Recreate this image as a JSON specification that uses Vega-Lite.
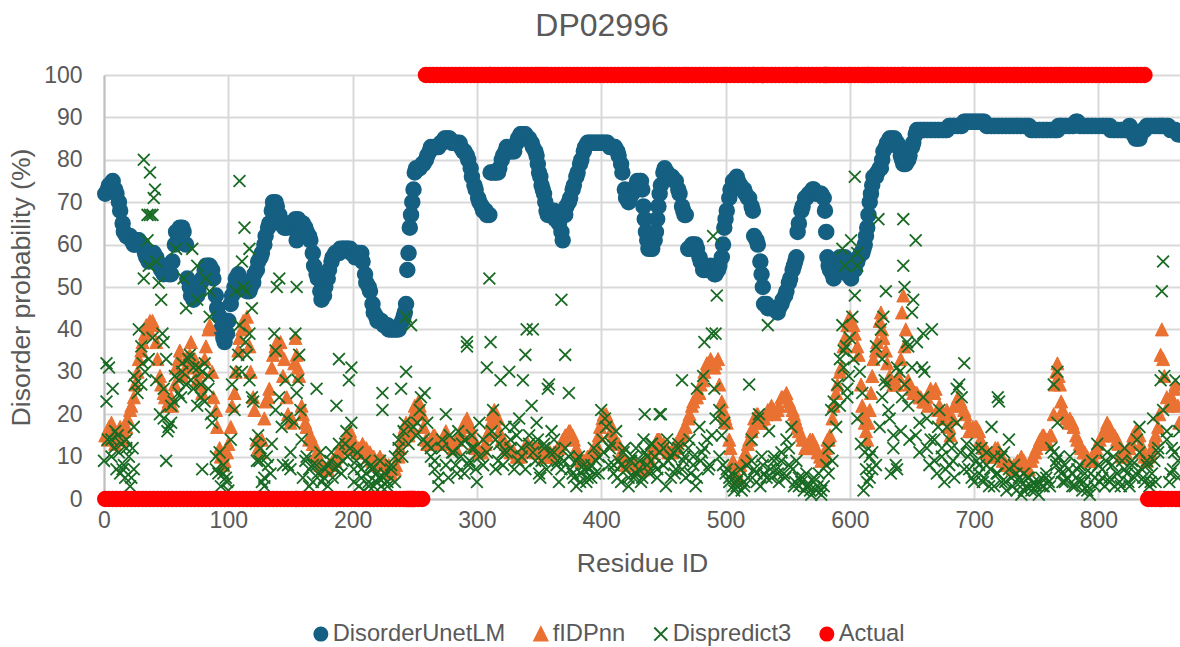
{"$schema":"https://vega.github.io/schema/vega-lite/v6.json","autosize":"none","padding":{"left":104,"top":75,"right":0,"bottom":148},"width":1076,"height":424,"background":"white",
"title":{"text":"DP02996","font":"Liberation Sans","fontSize":32,"fontWeight":"normal","color":"#595959","anchor":"middle","dx":-40,"offset":21},
"config":{"view":{"stroke":null},"axis":{"labelFont":"Liberation Sans","titleFont":"Liberation Sans","labelFontSize":23,"titleFontSize":26.6,"labelColor":"#595959","titleColor":"#595959","titleFontWeight":"normal","gridColor":"#d9d9d9","gridWidth":2,"domainColor":"#bfbfbf","domainWidth":2,"ticks":false,"labelFlush":false},"legend":{"labelFont":"Liberation Sans","labelFontSize":23.7,"labelColor":"#595959","labelLimit":400,"symbolSize":170,"symbolStrokeWidth":2,"symbolOpacity":1}},
"datasets":{"main":[
{"x":1,"u":72,"f":15,"a":0},{"x":4,"u":74,"f":17,"a":0},{"x":7,"u":75,"f":16,"a":0},{"x":10,"u":72,"f":15,"a":0},{"x":13,"u":68,"f":17,"a":0},{"x":16,"u":63,"f":16,"a":0},{"x":19,"u":62,"f":19,"a":0},{"x":22,"u":61,"f":22,"a":0},{"x":25,"u":60,"f":27,"a":0},{"x":28,"u":61,"f":33,"a":0},{"x":31,"u":60,"f":37,"a":0},{"x":34,"u":57,"f":41,"a":0},{"x":37,"u":57,"f":42,"a":0},{"x":40,"u":58,"f":41,"a":0},{"x":43,"u":56,"f":33,"a":0},{"x":46,"u":54,"f":27,"a":0},{"x":49,"u":54,"f":24,"a":0},{"x":52,"u":53,"f":23,"a":0},{"x":55,"u":56,"f":22,"a":0},{"x":58,"u":63,"f":31,"a":0},{"x":61,"u":64,"f":35,"a":0},{"x":64,"u":63,"f":30,"a":0},{"x":67,"u":52,"f":31,"a":0},{"x":70,"u":48,"f":37,"a":0},{"x":73,"u":48,"f":33,"a":0},{"x":76,"u":49,"f":30,"a":0},{"x":79,"u":52,"f":25,"a":0},{"x":82,"u":55,"f":36,"a":0},{"x":85,"u":55,"f":41,"a":0},{"x":88,"u":52,"f":24,"a":0},{"x":91,"u":45,"f":17,"a":0},{"x":94,"u":40,"f":10,"a":0},{"x":97,"u":37,"f":9,"a":0},{"x":100,"u":42,"f":13,"a":0},{"x":103,"u":48,"f":22,"a":0},{"x":106,"u":52,"f":30,"a":0},{"x":109,"u":52,"f":38,"a":0},{"x":112,"u":50,"f":42,"a":0},{"x":115,"u":49,"f":43,"a":0},{"x":118,"u":50,"f":30,"a":0},{"x":121,"u":53,"f":21,"a":0},{"x":124,"u":56,"f":12,"a":0},{"x":127,"u":58,"f":14,"a":0},{"x":130,"u":62,"f":23,"a":0},{"x":133,"u":65,"f":26,"a":0},{"x":136,"u":70,"f":34,"a":0},{"x":139,"u":69,"f":37,"a":0},{"x":142,"u":65,"f":37,"a":0},{"x":145,"u":64,"f":33,"a":0},{"x":148,"u":65,"f":20,"a":0},{"x":151,"u":64,"f":19,"a":0},{"x":154,"u":66,"f":38,"a":0},{"x":155,"u":61,"f":34,"a":0},{"x":157,"u":65,"f":29,"a":0},{"x":160,"u":65,"f":20,"a":0},{"x":163,"u":63,"f":17,"a":0},{"x":166,"u":61,"f":15,"a":0},{"x":169,"u":55,"f":13,"a":0},{"x":172,"u":52,"f":10,"a":0},{"x":175,"u":47,"f":8,"a":0},{"x":178,"u":50,"f":7,"a":0},{"x":181,"u":54,"f":8,"a":0},{"x":184,"u":57,"f":9,"a":0},{"x":187,"u":58,"f":10,"a":0},{"x":190,"u":59,"f":12,"a":0},{"x":193,"u":59,"f":13,"a":0},{"x":196,"u":59,"f":14,"a":0},{"x":199,"u":58,"f":14,"a":0},{"x":202,"u":57,"f":13,"a":0},{"x":205,"u":58,"f":12,"a":0},{"x":208,"u":56,"f":13,"a":0},{"x":211,"u":51,"f":12,"a":0},{"x":214,"u":49,"f":11,"a":0},{"x":217,"u":44,"f":10,"a":0},{"x":220,"u":42,"f":9,"a":0},{"x":223,"u":42,"f":9,"a":0},{"x":226,"u":41,"f":8,"a":0},{"x":229,"u":40,"f":8,"a":0},{"x":232,"u":40,"f":7,"a":0},{"x":235,"u":40,"f":8,"a":0},{"x":238,"u":41,"f":12,"a":0},{"x":241,"u":43,"f":16,"a":0},{"x":243,"u":46,"f":18,"a":0},{"x":244,"u":54,"f":17,"a":0},{"x":245,"u":58,"f":15,"a":0},{"x":246,"u":64,"f":16,"a":0},{"x":247,"u":67,"f":17,"a":0},{"x":248,"u":70,"f":19,"a":0},{"x":249,"u":73,"f":20,"a":0},{"x":250,"u":77,"f":22,"a":0},{"x":253,"u":78,"f":23,"a":0},{"x":256,"u":79,"f":20,"a":0},{"x":259,"u":80,"f":14,"a":100},{"x":262,"u":82,"f":13,"a":100},{"x":265,"u":83,"f":15,"a":100},{"x":268,"u":83,"f":14,"a":100},{"x":271,"u":84,"f":13,"a":100},{"x":274,"u":85,"f":15,"a":100},{"x":277,"u":85,"f":14,"a":100},{"x":280,"u":84,"f":13,"a":100},{"x":283,"u":84,"f":12,"a":100},{"x":286,"u":84,"f":15,"a":100},{"x":289,"u":82,"f":17,"a":100},{"x":292,"u":81,"f":19,"a":100},{"x":295,"u":78,"f":17,"a":100},{"x":298,"u":74,"f":13,"a":100},{"x":301,"u":71,"f":12,"a":100},{"x":304,"u":69,"f":11,"a":100},{"x":307,"u":68,"f":13,"a":100},{"x":310,"u":67,"f":16,"a":100},{"x":311,"u":77,"f":18,"a":100},{"x":314,"u":77,"f":21,"a":100},{"x":317,"u":77,"f":19,"a":100},{"x":320,"u":80,"f":14,"a":100},{"x":323,"u":82,"f":13,"a":100},{"x":326,"u":82,"f":12,"a":100},{"x":329,"u":82,"f":11,"a":100},{"x":332,"u":84,"f":10,"a":100},{"x":335,"u":86,"f":10,"a":100},{"x":338,"u":86,"f":12,"a":100},{"x":341,"u":85,"f":13,"a":100},{"x":344,"u":84,"f":12,"a":100},{"x":347,"u":82,"f":11,"a":100},{"x":349,"u":79,"f":12,"a":100},{"x":351,"u":76,"f":11,"a":100},{"x":353,"u":73,"f":11,"a":100},{"x":355,"u":70,"f":10,"a":100},{"x":357,"u":67,"f":11,"a":100},{"x":360,"u":68,"f":10,"a":100},{"x":363,"u":66,"f":11,"a":100},{"x":366,"u":65,"f":12,"a":100},{"x":369,"u":61,"f":14,"a":100},{"x":372,"u":69,"f":15,"a":100},{"x":375,"u":71,"f":16,"a":100},{"x":378,"u":74,"f":14,"a":100},{"x":381,"u":77,"f":11,"a":100},{"x":384,"u":80,"f":9,"a":100},{"x":387,"u":83,"f":9,"a":100},{"x":390,"u":84,"f":10,"a":100},{"x":393,"u":84,"f":11,"a":100},{"x":396,"u":84,"f":13,"a":100},{"x":399,"u":84,"f":17,"a":100},{"x":402,"u":84,"f":20,"a":100},{"x":405,"u":84,"f":19,"a":100},{"x":408,"u":83,"f":16,"a":100},{"x":411,"u":83,"f":14,"a":100},{"x":414,"u":81,"f":13,"a":100},{"x":417,"u":77,"f":10,"a":100},{"x":420,"u":71,"f":8,"a":100},{"x":423,"u":71,"f":8,"a":100},{"x":426,"u":73,"f":9,"a":100},{"x":429,"u":75,"f":7,"a":100},{"x":432,"u":75,"f":8,"a":100},{"x":434,"u":69,"f":7,"a":100},{"x":436,"u":63,"f":9,"a":100},{"x":438,"u":59,"f":10,"a":100},{"x":441,"u":59,"f":11,"a":100},{"x":444,"u":63,"f":13,"a":100},{"x":446,"u":69,"f":14,"a":100},{"x":448,"u":74,"f":13,"a":100},{"x":451,"u":78,"f":12,"a":100},{"x":454,"u":76,"f":11,"a":100},{"x":457,"u":76,"f":11,"a":100},{"x":460,"u":75,"f":13,"a":100},{"x":463,"u":72,"f":14,"a":100},{"x":466,"u":68,"f":16,"a":100},{"x":468,"u":67,"f":17,"a":100},{"x":470,"u":59,"f":19,"a":100},{"x":473,"u":60,"f":22,"a":100},{"x":476,"u":60,"f":24,"a":100},{"x":479,"u":57,"f":25,"a":100},{"x":482,"u":54,"f":28,"a":100},{"x":485,"u":54,"f":32,"a":100},{"x":488,"u":55,"f":33,"a":100},{"x":491,"u":53,"f":31,"a":100},{"x":494,"u":54,"f":33,"a":100},{"x":497,"u":57,"f":23,"a":100},{"x":499,"u":64,"f":20,"a":100},{"x":501,"u":68,"f":18,"a":100},{"x":504,"u":73,"f":12,"a":100},{"x":507,"u":75,"f":8,"a":100},{"x":510,"u":75,"f":5,"a":100},{"x":513,"u":73,"f":9,"a":100},{"x":516,"u":72,"f":11,"a":100},{"x":519,"u":71,"f":14,"a":100},{"x":522,"u":68,"f":17,"a":100},{"x":523,"u":62,"f":19,"a":100},{"x":526,"u":60,"f":20,"a":100},{"x":529,"u":53,"f":18,"a":100},{"x":531,"u":46,"f":19,"a":100},{"x":534,"u":45,"f":21,"a":100},{"x":537,"u":45,"f":22,"a":100},{"x":540,"u":45,"f":20,"a":100},{"x":543,"u":45,"f":22,"a":100},{"x":546,"u":47,"f":24,"a":100},{"x":549,"u":49,"f":25,"a":100},{"x":552,"u":52,"f":22,"a":100},{"x":555,"u":55,"f":20,"a":100},{"x":557,"u":57,"f":18,"a":100},{"x":558,"u":63,"f":17,"a":100},{"x":561,"u":68,"f":15,"a":100},{"x":564,"u":71,"f":12,"a":100},{"x":567,"u":72,"f":13,"a":100},{"x":570,"u":73,"f":14,"a":100},{"x":573,"u":72,"f":12,"a":100},{"x":576,"u":72,"f":10,"a":100},{"x":579,"u":71,"f":10,"a":100},{"x":580,"u":68,"f":11,"a":100},{"x":581,"u":63,"f":12,"a":100},{"x":582,"u":57,"f":14,"a":100},{"x":584,"u":54,"f":15,"a":100},{"x":587,"u":52,"f":22,"a":100},{"x":590,"u":55,"f":27,"a":100},{"x":593,"u":56,"f":31,"a":100},{"x":596,"u":57,"f":38,"a":100},{"x":599,"u":54,"f":42,"a":100},{"x":601,"u":52,"f":42,"a":100},{"x":604,"u":54,"f":39,"a":100},{"x":607,"u":57,"f":34,"a":100},{"x":610,"u":58,"f":22,"a":100},{"x":612,"u":60,"f":18,"a":100},{"x":614,"u":64,"f":14,"a":100},{"x":615,"u":67,"f":18,"a":100},{"x":617,"u":72,"f":25,"a":100},{"x":619,"u":76,"f":33,"a":100},{"x":622,"u":77,"f":37,"a":100},{"x":625,"u":78,"f":44,"a":100},{"x":627,"u":82,"f":38,"a":100},{"x":630,"u":84,"f":32,"a":100},{"x":633,"u":85,"f":28,"a":100},{"x":636,"u":85,"f":27,"a":100},{"x":639,"u":83,"f":29,"a":100},{"x":642,"u":80,"f":44,"a":100},{"x":643,"u":79,"f":48,"a":100},{"x":645,"u":79,"f":40,"a":100},{"x":648,"u":81,"f":27,"a":100},{"x":651,"u":84,"f":25,"a":100},{"x":654,"u":87,"f":25,"a":100},{"x":657,"u":87,"f":24,"a":100},{"x":660,"u":87,"f":23,"a":100},{"x":663,"u":87,"f":22,"a":100},{"x":666,"u":87,"f":25,"a":100},{"x":669,"u":87,"f":26,"a":100},{"x":672,"u":87,"f":22,"a":100},{"x":675,"u":87,"f":20,"a":100},{"x":678,"u":87,"f":21,"a":100},{"x":681,"u":88,"f":15,"a":100},{"x":684,"u":88,"f":22,"a":100},{"x":687,"u":88,"f":24,"a":100},{"x":690,"u":88,"f":22,"a":100},{"x":693,"u":89,"f":20,"a":100},{"x":696,"u":89,"f":16,"a":100},{"x":699,"u":89,"f":17,"a":100},{"x":702,"u":89,"f":17,"a":100},{"x":705,"u":89,"f":14,"a":100},{"x":708,"u":89,"f":12,"a":100},{"x":711,"u":88,"f":11,"a":100},{"x":714,"u":88,"f":10,"a":100},{"x":717,"u":88,"f":12,"a":100},{"x":720,"u":88,"f":11,"a":100},{"x":723,"u":88,"f":9,"a":100},{"x":726,"u":88,"f":8,"a":100},{"x":729,"u":88,"f":8,"a":100},{"x":732,"u":88,"f":8,"a":100},{"x":735,"u":88,"f":9,"a":100},{"x":738,"u":88,"f":10,"a":100},{"x":741,"u":88,"f":8,"a":100},{"x":744,"u":88,"f":7,"a":100},{"x":747,"u":87,"f":10,"a":100},{"x":750,"u":87,"f":12,"a":100},{"x":753,"u":87,"f":14,"a":100},{"x":756,"u":87,"f":15,"a":100},{"x":759,"u":87,"f":13,"a":100},{"x":762,"u":87,"f":15,"a":100},{"x":765,"u":87,"f":27,"a":100},{"x":767,"u":87,"f":32,"a":100},{"x":769,"u":88,"f":27,"a":100},{"x":771,"u":88,"f":21,"a":100},{"x":774,"u":88,"f":19,"a":100},{"x":777,"u":88,"f":19,"a":100},{"x":780,"u":88,"f":17,"a":100},{"x":783,"u":89,"f":14,"a":100},{"x":786,"u":88,"f":12,"a":100},{"x":789,"u":88,"f":11,"a":100},{"x":792,"u":88,"f":9,"a":100},{"x":795,"u":88,"f":10,"a":100},{"x":798,"u":88,"f":12,"a":100},{"x":801,"u":88,"f":14,"a":100},{"x":804,"u":88,"f":15,"a":100},{"x":807,"u":88,"f":18,"a":100},{"x":810,"u":87,"f":16,"a":100},{"x":813,"u":87,"f":15,"a":100},{"x":816,"u":87,"f":13,"a":100},{"x":819,"u":87,"f":10,"a":100},{"x":822,"u":87,"f":11,"a":100},{"x":825,"u":88,"f":12,"a":100},{"x":828,"u":86,"f":15,"a":100},{"x":831,"u":85,"f":16,"a":100},{"x":834,"u":86,"f":13,"a":100},{"x":837,"u":87,"f":10,"a":100},{"x":840,"u":88,"f":10,"a":0},{"x":843,"u":88,"f":12,"a":0},{"x":846,"u":88,"f":15,"a":0},{"x":849,"u":88,"f":20,"a":0},{"x":850,"u":88,"f":34,"a":0},{"x":851,"u":88,"f":40,"a":0},{"x":853,"u":88,"f":29,"a":0},{"x":856,"u":88,"f":22,"a":0},{"x":859,"u":87,"f":24,"a":0},{"x":862,"u":87,"f":27,"a":0},{"x":865,"u":86,"f":18,"a":0}],
"more":[
{"x":3,"u":73,"f":14,"d":14},{"x":6,"u":74,"f":18,"d":10},{"x":9,"u":73,"f":13,"d":16},{"x":12,"u":70,"f":15,"d":11},{"x":15,"u":65,"f":14,"d":7},{"x":18,"u":62,"f":17,"d":12},{"x":21,"u":62,"f":21,"d":3},{"x":24,"u":60,"f":24,"d":7},{"x":27,"u":61,"f":30,"d":25},{"x":30,"u":60,"f":35,"d":27},{"x":33,"u":58,"f":39,"d":30},{"x":36,"u":56,"f":40,"d":33},{"x":39,"u":58,"f":42,"d":38},{"x":42,"u":57,"f":37,"d":28},{"x":45,"u":55,"f":29,"d":20},{"x":48,"u":53,"f":25,"d":26},{"x":51,"u":55,"f":22,"d":16},{"x":54,"u":53,"f":24,"d":22},{"x":57,"u":60,"f":27,"d":29},{"x":60,"u":63,"f":33,"d":25},{"x":63,"u":64,"f":29,"d":30},{"x":66,"u":60,"f":33,"d":27},{"x":69,"u":50,"f":34,"d":34},{"x":72,"u":47,"f":32,"d":31},{"x":75,"u":48,"f":28,"d":22},{"x":78,"u":51,"f":27,"d":27},{"x":81,"u":54,"f":33,"d":32},{"x":84,"u":55,"f":40,"d":26},{"x":87,"u":54,"f":30,"d":18},{"x":90,"u":48,"f":21,"d":7},{"x":93,"u":43,"f":12,"d":11},{"x":96,"u":38,"f":8,"d":6},{"x":99,"u":39,"f":11,"d":4},{"x":102,"u":46,"f":17,"d":14},{"x":105,"u":50,"f":25,"d":21},{"x":108,"u":53,"f":35,"d":34},{"x":111,"u":51,"f":40,"d":30},{"x":114,"u":50,"f":41,"d":37},{"x":117,"u":49,"f":36,"d":28},{"x":120,"u":51,"f":24,"d":23},{"x":123,"u":54,"f":14,"d":9},{"x":126,"u":57,"f":11,"d":12},{"x":129,"u":60,"f":19,"d":5},{"x":132,"u":64,"f":24,"d":8},{"x":135,"u":68,"f":31,"d":13},{"x":138,"u":70,"f":36,"d":21},{"x":141,"u":67,"f":35,"d":24},{"x":144,"u":65,"f":29,"d":8},{"x":147,"u":64,"f":24,"d":19},{"x":150,"u":65,"f":18,"d":11},{"x":153,"u":65,"f":32,"d":18},{"x":156,"u":66,"f":31,"d":28},{"x":159,"u":65,"f":22,"d":14},{"x":162,"u":64,"f":18,"d":9},{"x":165,"u":62,"f":14,"d":7},{"x":168,"u":58,"f":13,"d":4},{"x":171,"u":53,"f":11,"d":8},{"x":174,"u":49,"f":8,"d":11},{"x":177,"u":48,"f":7,"d":5},{"x":180,"u":52,"f":7,"d":8},{"x":183,"u":56,"f":8,"d":11},{"x":186,"u":58,"f":9,"d":7},{"x":189,"u":58,"f":11,"d":13},{"x":192,"u":59,"f":12,"d":9},{"x":195,"u":59,"f":15,"d":16},{"x":198,"u":59,"f":16,"d":12},{"x":201,"u":58,"f":12,"d":7},{"x":204,"u":58,"f":11,"d":11},{"x":207,"u":58,"f":12,"d":5},{"x":210,"u":53,"f":11,"d":9},{"x":213,"u":50,"f":10,"d":3},{"x":216,"u":46,"f":9,"d":7},{"x":219,"u":43,"f":8,"d":4},{"x":222,"u":42,"f":10,"d":9},{"x":225,"u":41,"f":9,"d":5},{"x":228,"u":41,"f":7,"d":3},{"x":231,"u":40,"f":6,"d":8},{"x":234,"u":40,"f":7,"d":4},{"x":237,"u":40,"f":10,"d":12},{"x":240,"u":42,"f":14,"d":10},{"x":242,"u":44,"f":17,"d":18},{"x":251,"u":78,"f":21,"d":15},{"x":254,"u":78,"f":22,"d":21},{"x":257,"u":79,"f":17,"d":14},{"x":260,"u":81,"f":13,"d":18},{"x":263,"u":83,"f":14,"d":12},{"x":266,"u":83,"f":15,"d":9},{"x":269,"u":83,"f":13,"d":5},{"x":272,"u":84,"f":14,"d":12},{"x":275,"u":85,"f":16,"d":8},{"x":278,"u":85,"f":13,"d":15},{"x":281,"u":84,"f":12,"d":11},{"x":284,"u":84,"f":14,"d":6},{"x":287,"u":83,"f":16,"d":10},{"x":290,"u":82,"f":18,"d":14},{"x":293,"u":80,"f":18,"d":8},{"x":296,"u":76,"f":15,"d":12},{"x":299,"u":73,"f":12,"d":7},{"x":302,"u":70,"f":11,"d":10},{"x":305,"u":68,"f":12,"d":14},{"x":308,"u":67,"f":15,"d":11},{"x":312,"u":77,"f":20,"d":16},{"x":315,"u":77,"f":20,"d":7},{"x":318,"u":78,"f":16,"d":13},{"x":321,"u":81,"f":14,"d":8},{"x":324,"u":83,"f":12,"d":11},{"x":327,"u":82,"f":11,"d":14},{"x":330,"u":82,"f":11,"d":17},{"x":333,"u":85,"f":10,"d":9},{"x":336,"u":86,"f":11,"d":12},{"x":339,"u":86,"f":12,"d":7},{"x":342,"u":85,"f":12,"d":15},{"x":345,"u":83,"f":12,"d":11},{"x":348,"u":81,"f":12,"d":18},{"x":350,"u":77,"f":11,"d":6},{"x":352,"u":74,"f":11,"d":9},{"x":354,"u":72,"f":10,"d":13},{"x":356,"u":68,"f":10,"d":7},{"x":359,"u":67,"f":11,"d":11},{"x":362,"u":68,"f":11,"d":14},{"x":365,"u":66,"f":12,"d":9},{"x":368,"u":63,"f":13,"d":7},{"x":371,"u":67,"f":15,"d":12},{"x":374,"u":70,"f":16,"d":10},{"x":377,"u":73,"f":15,"d":6},{"x":380,"u":76,"f":12,"d":9},{"x":383,"u":79,"f":10,"d":4},{"x":386,"u":82,"f":9,"d":7},{"x":389,"u":84,"f":10,"d":5},{"x":392,"u":84,"f":11,"d":8},{"x":395,"u":84,"f":12,"d":6},{"x":398,"u":84,"f":15,"d":10},{"x":401,"u":84,"f":19,"d":14},{"x":404,"u":84,"f":20,"d":17},{"x":407,"u":83,"f":18,"d":12},{"x":410,"u":83,"f":15,"d":8},{"x":413,"u":82,"f":13,"d":5},{"x":416,"u":79,"f":11,"d":8},{"x":419,"u":73,"f":9,"d":12},{"x":422,"u":70,"f":8,"d":5},{"x":425,"u":72,"f":8,"d":10},{"x":428,"u":74,"f":8,"d":6},{"x":431,"u":75,"f":7,"d":9},{"x":433,"u":73,"f":7,"d":5},{"x":435,"u":66,"f":8,"d":11},{"x":437,"u":61,"f":9,"d":8},{"x":440,"u":59,"f":11,"d":13},{"x":443,"u":61,"f":12,"d":10},{"x":445,"u":66,"f":14,"d":7},{"x":447,"u":72,"f":14,"d":11},{"x":450,"u":77,"f":13,"d":8},{"x":453,"u":77,"f":12,"d":14},{"x":456,"u":76,"f":11,"d":10},{"x":459,"u":75,"f":12,"d":6},{"x":462,"u":73,"f":14,"d":12},{"x":465,"u":69,"f":15,"d":7},{"x":467,"u":67,"f":17,"d":10},{"x":471,"u":59,"f":20,"d":14},{"x":474,"u":60,"f":23,"d":8},{"x":477,"u":59,"f":24,"d":5},{"x":480,"u":56,"f":27,"d":9},{"x":483,"u":54,"f":30,"d":12},{"x":486,"u":54,"f":32,"d":7},{"x":489,"u":54,"f":32,"d":15},{"x":492,"u":53,"f":32,"d":19},{"x":495,"u":55,"f":27,"d":10},{"x":498,"u":60,"f":21,"d":8},{"x":500,"u":66,"f":19,"d":6},{"x":503,"u":71,"f":14,"d":5},{"x":506,"u":75,"f":9,"d":3},{"x":509,"u":76,"f":6,"d":4},{"x":512,"u":74,"f":8,"d":7},{"x":515,"u":73,"f":10,"d":3},{"x":518,"u":71,"f":13,"d":5},{"x":521,"u":69,"f":16,"d":9},{"x":525,"u":61,"f":20,"d":6},{"x":528,"u":56,"f":18,"d":3},{"x":530,"u":50,"f":19,"d":8},{"x":533,"u":46,"f":20,"d":5},{"x":536,"u":45,"f":21,"d":7},{"x":539,"u":45,"f":21,"d":10},{"x":542,"u":44,"f":21,"d":6},{"x":545,"u":46,"f":24,"d":9},{"x":548,"u":48,"f":24,"d":5},{"x":551,"u":51,"f":23,"d":12},{"x":554,"u":54,"f":21,"d":7},{"x":556,"u":56,"f":19,"d":4},{"x":559,"u":65,"f":16,"d":3},{"x":562,"u":69,"f":14,"d":5},{"x":565,"u":71,"f":12,"d":3},{"x":568,"u":72,"f":14,"d":2},{"x":571,"u":73,"f":13,"d":5},{"x":574,"u":72,"f":11,"d":3},{"x":577,"u":72,"f":9,"d":2},{"x":583,"u":55,"f":14,"d":6},{"x":586,"u":53,"f":19,"d":9},{"x":589,"u":54,"f":25,"d":17},{"x":592,"u":57,"f":30,"d":22},{"x":595,"u":55,"f":36,"d":31},{"x":598,"u":53,"f":41,"d":24},{"x":600,"u":53,"f":43,"d":38},{"x":603,"u":55,"f":41,"d":33},{"x":606,"u":56,"f":36,"d":19},{"x":609,"u":58,"f":27,"d":13},{"x":611,"u":59,"f":20,"d":2},{"x":613,"u":62,"f":16,"d":7},{"x":616,"u":70,"f":21,"d":5},{"x":618,"u":74,"f":29,"d":11},{"x":621,"u":76,"f":35,"d":8},{"x":624,"u":78,"f":42,"d":17},{"x":626,"u":80,"f":40,"d":24},{"x":629,"u":83,"f":35,"d":27},{"x":632,"u":85,"f":29,"d":19},{"x":635,"u":85,"f":27,"d":12},{"x":638,"u":84,"f":27,"d":7},{"x":641,"u":81,"f":33,"d":16},{"x":644,"u":79,"f":36,"d":27},{"x":647,"u":80,"f":28,"d":22},{"x":650,"u":83,"f":26,"d":31},{"x":653,"u":86,"f":25,"d":15},{"x":656,"u":87,"f":24,"d":11},{"x":659,"u":87,"f":23,"d":24},{"x":662,"u":87,"f":24,"d":19},{"x":665,"u":87,"f":26,"d":14},{"x":668,"u":87,"f":25,"d":9},{"x":671,"u":87,"f":21,"d":17},{"x":674,"u":87,"f":19,"d":12},{"x":677,"u":87,"f":20,"d":7},{"x":680,"u":88,"f":17,"d":14},{"x":683,"u":88,"f":19,"d":9},{"x":686,"u":88,"f":23,"d":18},{"x":689,"u":88,"f":23,"d":11},{"x":692,"u":89,"f":21,"d":7},{"x":695,"u":89,"f":18,"d":10},{"x":698,"u":89,"f":16,"d":5},{"x":701,"u":89,"f":17,"d":12},{"x":704,"u":89,"f":16,"d":8},{"x":707,"u":89,"f":13,"d":4},{"x":710,"u":88,"f":11,"d":11},{"x":713,"u":88,"f":10,"d":7},{"x":716,"u":88,"f":11,"d":3},{"x":719,"u":88,"f":12,"d":6},{"x":722,"u":88,"f":10,"d":10},{"x":725,"u":88,"f":8,"d":4},{"x":728,"u":88,"f":8,"d":7},{"x":731,"u":88,"f":7,"d":3},{"x":734,"u":88,"f":8,"d":6},{"x":737,"u":88,"f":9,"d":4},{"x":740,"u":88,"f":9,"d":2},{"x":743,"u":88,"f":7,"d":5},{"x":746,"u":87,"f":9,"d":3},{"x":749,"u":87,"f":11,"d":2},{"x":752,"u":87,"f":13,"d":4},{"x":755,"u":87,"f":15,"d":3},{"x":758,"u":87,"f":14,"d":5},{"x":761,"u":87,"f":15,"d":3},{"x":764,"u":87,"f":20,"d":11},{"x":766,"u":87,"f":30,"d":8},{"x":768,"u":88,"f":29,"d":10},{"x":770,"u":88,"f":23,"d":6},{"x":773,"u":88,"f":20,"d":4},{"x":776,"u":88,"f":18,"d":7},{"x":779,"u":88,"f":18,"d":3},{"x":782,"u":89,"f":15,"d":5},{"x":785,"u":88,"f":13,"d":8},{"x":788,"u":88,"f":11,"d":4},{"x":791,"u":88,"f":10,"d":2},{"x":794,"u":88,"f":9,"d":6},{"x":797,"u":88,"f":11,"d":3},{"x":800,"u":88,"f":13,"d":8},{"x":803,"u":88,"f":15,"d":5},{"x":806,"u":88,"f":17,"d":9},{"x":809,"u":88,"f":17,"d":4},{"x":812,"u":87,"f":15,"d":10},{"x":815,"u":87,"f":14,"d":6},{"x":818,"u":87,"f":11,"d":3},{"x":821,"u":87,"f":10,"d":7},{"x":824,"u":87,"f":12,"d":4},{"x":827,"u":87,"f":13,"d":9},{"x":830,"u":85,"f":16,"d":6},{"x":833,"u":85,"f":15,"d":11},{"x":836,"u":87,"f":11,"d":5},{"x":839,"u":88,"f":9,"d":8},{"x":842,"u":88,"f":11,"d":4},{"x":845,"u":88,"f":14,"d":9},{"x":848,"u":88,"f":17,"d":12},{"x":852,"u":88,"f":33,"d":21},{"x":855,"u":88,"f":24,"d":14},{"x":858,"u":87,"f":23,"d":6},{"x":861,"u":87,"f":26,"d":11},{"x":864,"u":86,"f":22,"d":5}],
"disp":[
{"x":2,"y":32},{"x":2,"y":23},{"x":0,"y":9},{"x":7,"y":26},{"x":4,"y":31},{"x":6,"y":14},{"x":8,"y":12},{"x":10,"y":7},{"x":11,"y":15},{"x":13,"y":6},{"x":14,"y":13},{"x":16,"y":8},{"x":17,"y":5},{"x":18,"y":14},{"x":20,"y":10},{"x":22,"y":5},{"x":23,"y":12},{"x":24,"y":17},{"x":24,"y":29},{"x":25,"y":27},{"x":28,"y":40},{"x":30,"y":36},{"x":31,"y":32},{"x":32,"y":80},{"x":37,"y":77},{"x":41,"y":73},{"x":40,"y":71},{"x":35,"y":67},{"x":37,"y":67},{"x":39,"y":67},{"x":35,"y":61},{"x":42,"y":56},{"x":36,"y":55},{"x":32,"y":52},{"x":44,"y":51},{"x":46,"y":47},{"x":47,"y":39},{"x":48,"y":37},{"x":50,"y":33},{"x":48,"y":19},{"x":52,"y":17},{"x":54,"y":18},{"x":50,"y":9},{"x":56,"y":23},{"x":58,"y":59},{"x":60,"y":28},{"x":62,"y":24},{"x":63,"y":32},{"x":64,"y":52},{"x":66,"y":45},{"x":68,"y":33},{"x":70,"y":28},{"x":71,"y":59},{"x":72,"y":26},{"x":75,"y":55},{"x":75,"y":47},{"x":76,"y":31},{"x":78,"y":24},{"x":79,"y":30},{"x":82,"y":52},{"x":85,"y":49},{"x":85,"y":43},{"x":81,"y":23},{"x":84,"y":29},{"x":86,"y":20},{"x":79,"y":7},{"x":90,"y":10},{"x":92,"y":6},{"x":94,"y":3},{"x":96,"y":8},{"x":98,"y":5},{"x":100,"y":2},{"x":103,"y":27},{"x":106,"y":30},{"x":106,"y":49},{"x":109,"y":75},{"x":109,"y":41},{"x":111,"y":56},{"x":113,"y":64},{"x":114,"y":49},{"x":112,"y":50},{"x":115,"y":34},{"x":117,"y":59},{"x":117,"y":39},{"x":119,"y":45},{"x":119,"y":24},{"x":122,"y":13},{"x":124,"y":15},{"x":125,"y":9},{"x":127,"y":4},{"x":129,"y":3},{"x":131,"y":10},{"x":134,"y":6},{"x":137,"y":39},{"x":138,"y":35},{"x":139,"y":50},{"x":141,"y":52},{"x":143,"y":17},{"x":146,"y":28},{"x":148,"y":8},{"x":150,"y":7},{"x":154,"y":39},{"x":155,"y":50},{"x":155,"y":25},{"x":157,"y":34},{"x":158,"y":21},{"x":160,"y":5},{"x":163,"y":10},{"x":165,"y":3},{"x":168,"y":8},{"x":171,"y":26},{"x":172,"y":6},{"x":175,"y":4},{"x":178,"y":7},{"x":180,"y":3},{"x":182,"y":9},{"x":184,"y":5},{"x":187,"y":22},{"x":188,"y":8},{"x":189,"y":33},{"x":191,"y":6},{"x":194,"y":13},{"x":196,"y":10},{"x":197,"y":28},{"x":199,"y":31},{"x":199,"y":18},{"x":201,"y":4},{"x":203,"y":9},{"x":205,"y":3},{"x":207,"y":7},{"x":209,"y":2},{"x":211,"y":6},{"x":213,"y":4},{"x":215,"y":8},{"x":217,"y":3},{"x":219,"y":6},{"x":221,"y":5},{"x":223,"y":3},{"x":224,"y":25},{"x":224,"y":21},{"x":226,"y":6},{"x":228,"y":4},{"x":231,"y":7},{"x":234,"y":10},{"x":237,"y":14},{"x":239,"y":26},{"x":241,"y":16},{"x":243,"y":30},{"x":243,"y":43},{"x":245,"y":13},{"x":247,"y":41},{"x":249,"y":17},{"x":252,"y":18},{"x":255,"y":24},{"x":258,"y":25},{"x":260,"y":13},{"x":263,"y":10},{"x":266,"y":7},{"x":269,"y":3},{"x":272,"y":14},{"x":275,"y":20},{"x":277,"y":5},{"x":280,"y":11},{"x":283,"y":8},{"x":285,"y":16},{"x":288,"y":13},{"x":290,"y":6},{"x":292,"y":37},{"x":292,"y":36},{"x":294,"y":9},{"x":296,"y":15},{"x":298,"y":12},{"x":300,"y":4},{"x":302,"y":18},{"x":305,"y":8},{"x":308,"y":31},{"x":310,"y":52},{"x":311,"y":37},{"x":313,"y":21},{"x":315,"y":14},{"x":317,"y":9},{"x":319,"y":28},{"x":321,"y":11},{"x":323,"y":17},{"x":326,"y":30},{"x":327,"y":12},{"x":330,"y":7},{"x":332,"y":15},{"x":334,"y":19},{"x":336,"y":10},{"x":337,"y":28},{"x":339,"y":34},{"x":340,"y":40},{"x":342,"y":13},{"x":344,"y":22},{"x":345,"y":40},{"x":347,"y":9},{"x":349,"y":14},{"x":351,"y":5},{"x":354,"y":12},{"x":357,"y":26},{"x":358,"y":27},{"x":360,"y":16},{"x":362,"y":11},{"x":364,"y":8},{"x":366,"y":4},{"x":368,"y":47},{"x":370,"y":9},{"x":371,"y":34},{"x":374,"y":25},{"x":375,"y":7},{"x":378,"y":5},{"x":380,"y":3},{"x":382,"y":10},{"x":384,"y":6},{"x":386,"y":8},{"x":388,"y":4},{"x":390,"y":7},{"x":392,"y":5},{"x":394,"y":12},{"x":396,"y":9},{"x":398,"y":6},{"x":400,"y":21},{"x":402,"y":11},{"x":403,"y":19},{"x":406,"y":8},{"x":408,"y":13},{"x":410,"y":6},{"x":412,"y":16},{"x":414,"y":9},{"x":416,"y":4},{"x":418,"y":11},{"x":420,"y":7},{"x":422,"y":3},{"x":424,"y":9},{"x":426,"y":5},{"x":428,"y":12},{"x":430,"y":7},{"x":432,"y":4},{"x":434,"y":14},{"x":435,"y":20},{"x":437,"y":10},{"x":439,"y":6},{"x":441,"y":13},{"x":443,"y":8},{"x":445,"y":5},{"x":447,"y":20},{"x":448,"y":20},{"x":450,"y":12},{"x":452,"y":3},{"x":454,"y":9},{"x":456,"y":5},{"x":458,"y":11},{"x":460,"y":7},{"x":462,"y":13},{"x":465,"y":28},{"x":466,"y":9},{"x":468,"y":5},{"x":470,"y":12},{"x":472,"y":6},{"x":474,"y":10},{"x":476,"y":3},{"x":477,"y":26},{"x":479,"y":17},{"x":481,"y":11},{"x":482,"y":29},{"x":483,"y":37},{"x":485,"y":14},{"x":487,"y":8},{"x":489,"y":39},{"x":490,"y":62},{"x":491,"y":26},{"x":492,"y":39},{"x":493,"y":48},{"x":495,"y":21},{"x":497,"y":15},{"x":499,"y":18},{"x":501,"y":7},{"x":503,"y":4},{"x":505,"y":6},{"x":507,"y":2},{"x":509,"y":3},{"x":511,"y":5},{"x":513,"y":2},{"x":515,"y":4},{"x":517,"y":8},{"x":519,"y":27},{"x":521,"y":14},{"x":523,"y":7},{"x":525,"y":4},{"x":526,"y":19},{"x":527,"y":20},{"x":529,"y":10},{"x":531,"y":6},{"x":534,"y":41},{"x":535,"y":16},{"x":537,"y":5},{"x":539,"y":9},{"x":541,"y":7},{"x":543,"y":4},{"x":545,"y":11},{"x":547,"y":6},{"x":549,"y":14},{"x":551,"y":8},{"x":553,"y":17},{"x":555,"y":3},{"x":557,"y":9},{"x":559,"y":5},{"x":561,"y":4},{"x":563,"y":2},{"x":565,"y":6},{"x":567,"y":3},{"x":569,"y":1},{"x":571,"y":4},{"x":573,"y":2},{"x":575,"y":6},{"x":577,"y":1},{"x":579,"y":3},{"x":581,"y":8},{"x":583,"y":12},{"x":585,"y":21},{"x":587,"y":23},{"x":590,"y":27},{"x":592,"y":33},{"x":594,"y":59},{"x":594,"y":41},{"x":595,"y":35},{"x":596,"y":55},{"x":597,"y":36},{"x":598,"y":26},{"x":599,"y":29},{"x":601,"y":61},{"x":602,"y":43},{"x":604,"y":76},{"x":604,"y":48},{"x":606,"y":58},{"x":606,"y":55},{"x":608,"y":30},{"x":610,"y":25},{"x":612,"y":11},{"x":614,"y":4},{"x":616,"y":10},{"x":618,"y":7},{"x":621,"y":36},{"x":623,"y":66},{"x":625,"y":40},{"x":626,"y":33},{"x":627,"y":43},{"x":628,"y":28},{"x":629,"y":49},{"x":631,"y":21},{"x":633,"y":6},{"x":635,"y":15},{"x":637,"y":8},{"x":638,"y":31},{"x":640,"y":30},{"x":642,"y":24},{"x":643,"y":66},{"x":643,"y":55},{"x":644,"y":50},{"x":646,"y":37},{"x":647,"y":36},{"x":648,"y":14},{"x":650,"y":44},{"x":651,"y":47},{"x":653,"y":61},{"x":654,"y":37},{"x":656,"y":18},{"x":658,"y":31},{"x":659,"y":39},{"x":660,"y":30},{"x":662,"y":12},{"x":664,"y":8},{"x":666,"y":40},{"x":668,"y":14},{"x":670,"y":6},{"x":672,"y":21},{"x":674,"y":10},{"x":676,"y":4},{"x":678,"y":17},{"x":680,"y":8},{"x":682,"y":12},{"x":684,"y":5},{"x":686,"y":26},{"x":688,"y":27},{"x":690,"y":24},{"x":692,"y":32},{"x":694,"y":13},{"x":696,"y":7},{"x":698,"y":11},{"x":700,"y":4},{"x":702,"y":9},{"x":704,"y":6},{"x":706,"y":12},{"x":708,"y":5},{"x":710,"y":8},{"x":712,"y":3},{"x":714,"y":17},{"x":716,"y":10},{"x":718,"y":6},{"x":719,"y":24},{"x":720,"y":23},{"x":722,"y":4},{"x":724,"y":11},{"x":726,"y":2},{"x":728,"y":14},{"x":730,"y":5},{"x":732,"y":8},{"x":734,"y":2},{"x":736,"y":5},{"x":738,"y":1},{"x":740,"y":6},{"x":742,"y":3},{"x":744,"y":5},{"x":746,"y":2},{"x":748,"y":4},{"x":750,"y":3},{"x":752,"y":1},{"x":754,"y":5},{"x":756,"y":3},{"x":758,"y":6},{"x":760,"y":4},{"x":762,"y":12},{"x":764,"y":27},{"x":766,"y":9},{"x":767,"y":30},{"x":767,"y":18},{"x":769,"y":7},{"x":771,"y":4},{"x":773,"y":8},{"x":775,"y":5},{"x":777,"y":10},{"x":779,"y":6},{"x":781,"y":3},{"x":783,"y":7},{"x":785,"y":4},{"x":787,"y":2},{"x":789,"y":6},{"x":791,"y":3},{"x":793,"y":1},{"x":795,"y":9},{"x":797,"y":5},{"x":799,"y":13},{"x":801,"y":4},{"x":803,"y":7},{"x":805,"y":3},{"x":807,"y":11},{"x":809,"y":5},{"x":811,"y":8},{"x":813,"y":3},{"x":815,"y":6},{"x":817,"y":4},{"x":819,"y":9},{"x":821,"y":12},{"x":823,"y":6},{"x":825,"y":3},{"x":827,"y":8},{"x":829,"y":5},{"x":831,"y":14},{"x":833,"y":17},{"x":835,"y":7},{"x":837,"y":4},{"x":839,"y":9},{"x":841,"y":3},{"x":843,"y":6},{"x":844,"y":19},{"x":846,"y":4},{"x":848,"y":11},{"x":850,"y":28},{"x":851,"y":49},{"x":852,"y":56},{"x":853,"y":29},{"x":855,"y":16},{"x":857,"y":4},{"x":859,"y":12},{"x":860,"y":7},{"x":862,"y":28},{"x":864,"y":9},{"x":865,"y":16}]},
"encoding":{"x":{"field":"x","type":"quantitative","scale":{"domain":[0,865.6],"nice":false},"axis":{"values":[0,100,200,300,400,500,600,700,800],"title":"Residue ID","labelPadding":10,"titlePadding":18,"labelOverlap":false}}},
"layer":[
{"data":{"name":"main"},"mark":{"type":"point","size":210,"strokeWidth":2,"opacity":1},"encoding":{"y":{"field":"u","type":"quantitative","scale":{"domain":[0,100],"nice":false},"axis":{"values":[0,10,20,30,40,50,60,70,80,90,100],"title":"Disorder probability (%)","labelPadding":22,"titlePadding":8}},
"fill":{"datum":"DisorderUnetLM","scale":{"domain":["DisorderUnetLM","fIDPnn","Dispredict3","Actual"],"range":["#156082","#e97132","transparent","#ff0000"]},"legend":{"title":null,"orient":"none","legendX":205,"legendY":547,"direction":"horizontal","columns":4,"columnPadding":23,"labelOffset":0}},
"stroke":{"datum":"DisorderUnetLM","scale":{"domain":["DisorderUnetLM","fIDPnn","Dispredict3","Actual"],"range":["#156082","#e97132","#196b24","#ff0000"]}},
"shape":{"datum":"DisorderUnetLM","scale":{"domain":["DisorderUnetLM","fIDPnn","Dispredict3","Actual"],"range":["circle","M0,-1L1,1L-1,1Z","M-1,-1L1,1M-1,1L1,-1","circle"]}}}},
{"data":{"name":"more"},"mark":{"type":"point","size":210,"strokeWidth":2,"opacity":1},"encoding":{"y":{"field":"u","type":"quantitative"},"fill":{"datum":"DisorderUnetLM"},"stroke":{"datum":"DisorderUnetLM"},"shape":{"datum":"DisorderUnetLM"}}},
{"data":{"name":"main"},"mark":{"type":"point","size":170,"strokeWidth":1,"opacity":1},"encoding":{"y":{"field":"f","type":"quantitative"},"fill":{"datum":"fIDPnn"},"stroke":{"datum":"fIDPnn"},"shape":{"datum":"fIDPnn"}}},
{"data":{"name":"more"},"mark":{"type":"point","size":170,"strokeWidth":1,"opacity":1},"encoding":{"y":{"field":"f","type":"quantitative"},"fill":{"datum":"fIDPnn"},"stroke":{"datum":"fIDPnn"},"shape":{"datum":"fIDPnn"}}},
{"data":{"name":"disp"},"mark":{"type":"point","size":140,"strokeWidth":1.8,"opacity":1},"encoding":{"y":{"field":"y","type":"quantitative"},"fill":{"datum":"Dispredict3"},"stroke":{"datum":"Dispredict3"},"shape":{"datum":"Dispredict3"}}},
{"data":{"name":"more"},"mark":{"type":"point","size":140,"strokeWidth":1.8,"opacity":1},"encoding":{"y":{"field":"d","type":"quantitative"},"fill":{"datum":"Dispredict3"},"stroke":{"datum":"Dispredict3"},"shape":{"datum":"Dispredict3"}}},
{"data":{"name":"main"},"mark":{"type":"point","size":210,"strokeWidth":2,"opacity":1},"encoding":{"y":{"field":"a","type":"quantitative"},"fill":{"datum":"Actual"},"stroke":{"datum":"Actual"},"shape":{"datum":"Actual"}}}
]}
